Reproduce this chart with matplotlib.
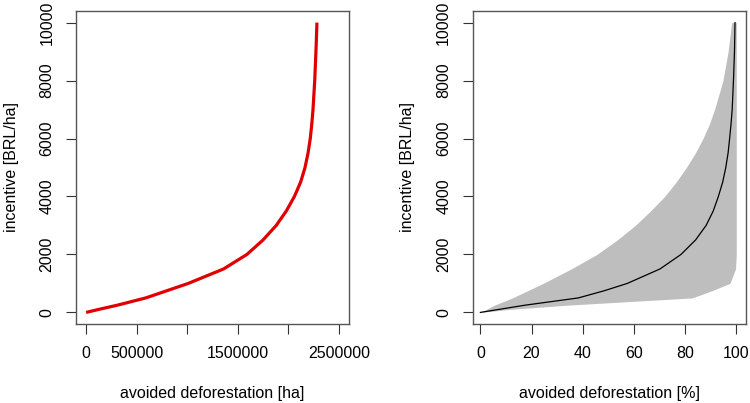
import matplotlib
matplotlib.use("Agg")
import matplotlib.pyplot as plt

# niveles de incentivo [BRL/ha]
incentive = [0, 100, 250, 500, 750, 1000, 1500, 2000, 2500, 3000, 3500,
             4000, 4500, 5000, 5500, 6000, 6500, 7000, 8000, 9000, 10000]

# deforestacion evitada [ha] (panel izquierdo)
avoided_ha = [0, 120000, 310000, 590000, 800000, 1010000, 1360000, 1590000,
              1750000, 1880000, 1980000, 2060000, 2122000, 2165000, 2195000,
              2217000, 2232000, 2244000, 2261000, 2273000, 2283000]

# deforestacion evitada [%] (panel derecho): media, limite bajo y alto
avoided_pct = [0, 7, 17.5, 38.3, 48.5, 57.4, 70.2, 78.4, 84.1, 88.2, 91.0,
               93.0, 94.7, 95.9, 96.8, 97.4, 97.95, 98.4, 98.9, 99.3, 99.5]
pct_low = [0, 2.3, 5.5, 12.5, 18.5, 24.5, 35.5, 45.5, 53.5, 60.5, 66.5,
           72, 76.5, 80.5, 84, 87, 89.5, 91.5, 94.8, 96.8, 98.2]
pct_high = [0, 11, 34, 82.8, 90.5, 97.5, 99.7, 100, 100, 100, 100, 100, 100,
            100, 100, 100, 100, 100, 100, 100, 100]

plt.rcParams['font.family'] = ['Liberation Sans', 'DejaVu Sans']
plt.rcParams['font.size'] = 11.5

fig = plt.figure(figsize=(7.5, 4.03), dpi=100)
ax1 = fig.add_axes([76 / 750, 79 / 403, 273 / 750, 313 / 403])
ax2 = fig.add_axes([472.7 / 750, 79 / 403, 273.3 / 750, 313 / 403])

ax1.plot(avoided_ha, incentive, color="#e00000", lw=2.3, solid_capstyle="butt")
ax1.set_xlim(-100000, 2600000)
ax1.set_xticks([0, 500000, 1000000, 1500000, 2000000, 2500000])
ax1.set_xticklabels(["0", "500000", "", "1500000", "", "2500000"])
ax1.set_xlabel("avoided deforestation [ha]", labelpad=18.5)

ax2.fill_betweenx(incentive, pct_low, pct_high, color="#bebebe", lw=0)
ax2.plot(avoided_pct, incentive, color="black", lw=0.9)
ax2.set_xlim(-3.0, 103.8)
ax2.set_xticks([0, 20, 40, 60, 80, 100])
ax2.set_xlabel("avoided deforestation [%]", labelpad=18.5)

for ax in (ax1, ax2):
    ax.set_ylim(-400, 10400)
    ax.set_yticks([0, 2000, 4000, 6000, 8000, 10000])
    ax.set_ylabel("incentive [BRL/ha]", labelpad=15)
    ax.tick_params(direction="out", length=7.5, width=0.8, pad=8, color="#333333")
    ax.tick_params(axis="y", labelrotation=90)
    for lab in ax.get_yticklabels():
        lab.set_va("center")
    for s in ax.spines.values():
        s.set_color("#555555")
        s.set_linewidth(1.0)

fig.savefig("out.png", dpi=100)
